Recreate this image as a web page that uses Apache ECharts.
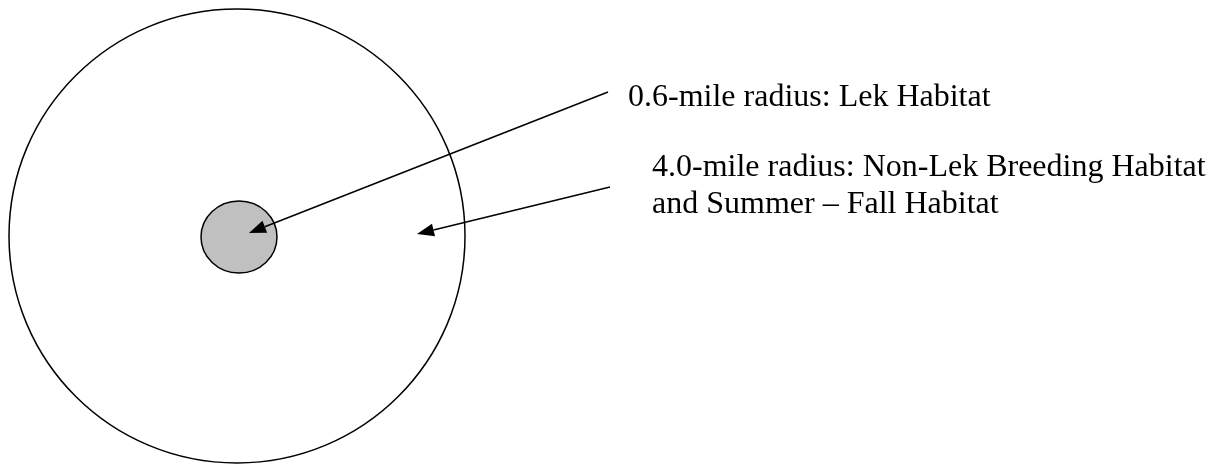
<!DOCTYPE html>
<html>
<head>
<meta charset="utf-8">
<script src="https://cdn.jsdelivr.net/npm/echarts@6/dist/echarts.min.js"></script>
<style>
  html, body { margin: 0; padding: 0; background: #fff; }
  #diagram { width: 1223px; height: 466px; }
</style>
</head>
<body>
<div id="diagram"></div>
<script>
// diagram units: same span as the picture, y runs downward
let areaNames = ['4.0-mile radius', '0.6-mile radius'];
let areaCenterX = [237, 239];
let areaCenterY = [236, 237];
let areaRadiusX = [228, 38];
let areaRadiusY = [227, 36];

let arrowFromX = [608, 610];
let arrowFromY = [92, 187];
let arrowToX = [249, 417];
let arrowToY = [233, 234];

let labelLines = [
    '0.6-mile radius: Lek Habitat',
    '4.0-mile radius: Non-Lek Breeding Habitat',
    'and Summer \u2013 Fall Habitat'
];
let labelX = [628, 652, 652];
let labelBaseY = [108, 178, 215];

function draw_habitat_diagram() {

    let chart = echarts.init(document.getElementById('diagram'));

    let areaData = [];
    for (var i = 0; i < areaNames.length; i++) {
        areaData.push([areaCenterX[i], areaCenterY[i], areaRadiusX[i], areaRadiusY[i], i]);
    }
    let arrowData = [];
    for (var i = 0; i < arrowFromX.length; i++) {
        arrowData.push([arrowFromX[i], arrowFromY[i], arrowToX[i], arrowToY[i]]);
    }
    let labelData = [];
    for (var i = 0; i < labelLines.length; i++) {
        labelData.push([labelX[i], labelBaseY[i], i]);
    }

    var option = {
        animation: false,
        grid: { left: 0, right: 0, top: 0, bottom: 0 },
        xAxis: { type: 'value', min: 0, max: 1223, show: false },
        yAxis: { type: 'value', min: 0, max: 466, inverse: true, show: false },
        series: [
            {
                type: 'custom',
                data: areaData,
                renderItem: function (params, api) {
                    let c = api.coord([api.value(0), api.value(1)]);
                    let edge = api.coord([api.value(0) + api.value(2), api.value(1) + api.value(3)]);
                    let inner = api.value(4) === 1;
                    return {
                        type: 'ellipse',
                        shape: { cx: c[0], cy: c[1], rx: Math.abs(edge[0] - c[0]), ry: Math.abs(edge[1] - c[1]) },
                        style: { fill: inner ? '#c0c0c0' : 'none', stroke: '#000', lineWidth: 1.5 }
                    };
                }
            },
            {
                type: 'custom',
                data: arrowData,
                renderItem: function (params, api) {
                    let a = api.coord([api.value(0), api.value(1)]);
                    let b = api.coord([api.value(2), api.value(3)]);
                    let dx = b[0] - a[0], dy = b[1] - a[1];
                    let len = Math.sqrt(dx * dx + dy * dy);
                    let ux = dx / len, uy = dy / len;
                    let headLen = 17, headHalf = 6.5;
                    let bx = b[0] - ux * headLen, by = b[1] - uy * headLen;
                    return {
                        type: 'group',
                        children: [
                            {
                                type: 'line',
                                shape: { x1: a[0], y1: a[1], x2: bx, y2: by },
                                style: { stroke: '#000', lineWidth: 1.5 }
                            },
                            {
                                type: 'polygon',
                                shape: {
                                    points: [
                                        [b[0], b[1]],
                                        [bx - uy * headHalf, by + ux * headHalf],
                                        [bx + uy * headHalf, by - ux * headHalf]
                                    ]
                                },
                                style: { fill: '#000' }
                            }
                        ]
                    };
                }
            },
            {
                type: 'custom',
                data: labelData,
                renderItem: function (params, api) {
                    let p = api.coord([api.value(0), api.value(1)]);
                    return {
                        type: 'text',
                        x: p[0],
                        y: p[1] - 10,
                        style: {
                            text: labelLines[api.value(2)],
                            font: '32px "Liberation Serif", "Times New Roman", serif',
                            fill: '#000',
                            align: 'left',
                            verticalAlign: 'middle'
                        }
                    };
                }
            }
        ]
    };

    option && chart.setOption(option, true);
}

draw_habitat_diagram();
</script>
</body>
</html>
